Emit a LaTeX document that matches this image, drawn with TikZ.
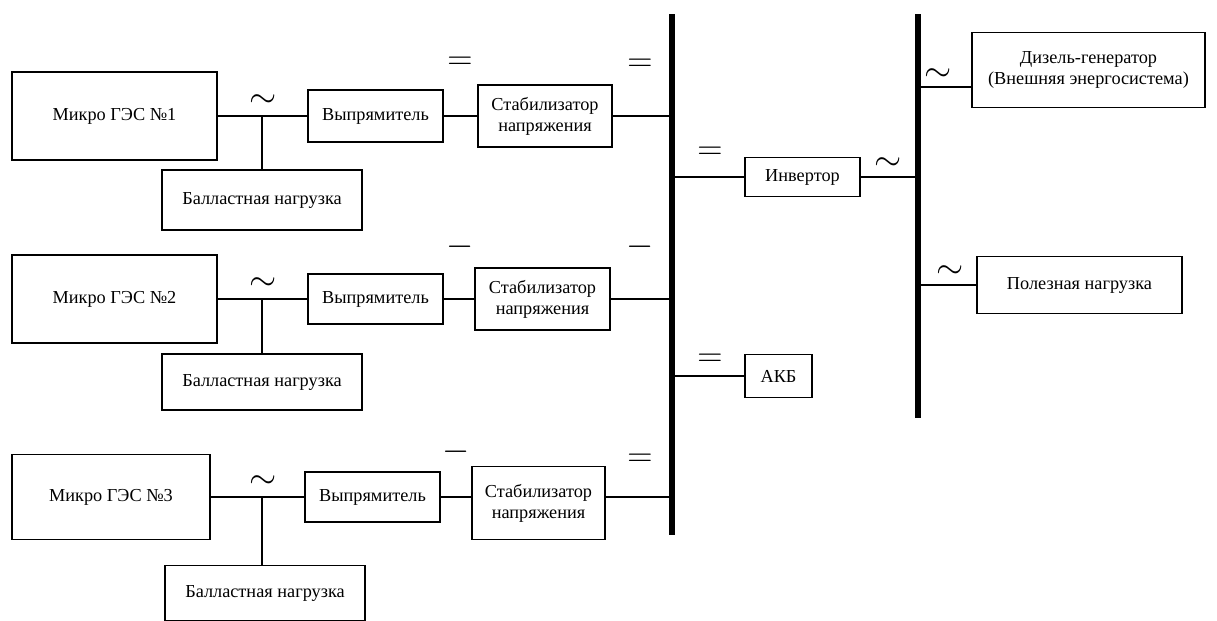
\documentclass[tikz,border=0pt]{standalone}
\usepackage{fontspec}
\setmainfont{Liberation Serif}
\usetikzlibrary{positioning}

\begin{document}
\begin{tikzpicture}[
    x=0.025cm, y=-0.025cm,
    box/.style 2 args={draw, line width=1pt, align=center, inner sep=1pt,
        minimum width=#1*0.025cm, minimum height=#2*0.025cm,
        font=\fontsize{13}{15}\selectfont},
    wire/.style={line width=1.1pt},
    bus/.style={line width=3.6pt},
    sgn/.style={inner sep=0pt, font=\fontsize{23}{23}\selectfont}
]
\useasboundingbox (0,0) rectangle (1217,620);

% row 1
\node[box={205}{88}] (ges1) at (114.5,116) {Микро ГЭС №1};
\node[box={135}{52}] (rect1) at (375.5,116) {Выпрямитель};
\node[box={134}{62}] (stab1) at (545,116) {Стабилизатор\\напряжения};
\node[box={200}{60}] (bal1) at (262,200) {Балластная нагрузка};
\coordinate (j1) at (262,116);

% row 2
\node[box={205}{88}] (ges2) at (114.5,299) {Микро ГЭС №2};
\node[box={135}{50}] (rect2) at (375.5,299) {Выпрямитель};
\node[box={135}{62}] (stab2) at (542.5,299) {Стабилизатор\\напряжения};
\node[box={200}{56}] (bal2) at (262,382) {Балластная нагрузка};
\coordinate (j2) at (262,299);

% row 3
\node[box={198}{85}] (ges3) at (111,497) {Микро ГЭС №3};
\node[box={135}{50}] (rect3) at (372.5,497) {Выпрямитель};
\node[box={133}{73}] (stab3) at (538.5,503) {Стабилизатор\\напряжения};
\node[box={200}{55}] (bal3) at (265,593) {Балластная нагрузка};
\coordinate (j3) at (262,497);

% buses
\coordinate (b1t) at (672,14);
\coordinate (b1b) at (672,535);
\coordinate (b2t) at (918,14);
\coordinate (b2b) at (918,418);
\draw[bus] (b1t) -- (b1b);
\draw[bus] (b2t) -- (b2b);

% right side
\node[box={115}{39}] (inv) at (802.5,177) {Инвертор};
\node[box={67}{43}] (akb) at (778.5,376) {АКБ};
\node[box={233}{75}] (dg) at (1088.5,70) {Дизель-генератор\\(Внешняя энергосистема)};
\node[box={205}{57}] (load) at (1079.5,285) {Полезная нагрузка};

% connections
\draw[wire] (ges1) -- (rect1);
\draw[wire] (j1) -- (bal1);
\draw[wire] (rect1) -- (stab1);
\draw[wire] (stab1) -- (stab1 -| b1t);
\draw[wire] (ges2) -- (rect2);
\draw[wire] (j2) -- (bal2);
\draw[wire] (rect2) -- (stab2);
\draw[wire] (stab2) -- (stab2 -| b1t);
\draw[wire] (ges3) -- (rect3);
\draw[wire] (j3) -- (j3 |- bal3.north);
\draw[wire] (rect3) -- (rect3 -| stab3.west);
\draw[wire] (rect3 -| stab3.east) -- (rect3 -| b1t);
\draw[wire] (inv -| b1t) -- (inv);
\draw[wire] (inv) -- (inv -| b2t);
\draw[wire] (akb -| b1t) -- (akb);
\draw[wire] ([yshift=-17*0.025cm]dg.west -| b2t) -- ([yshift=-17*0.025cm]dg.west);
\draw[wire] (load -| b2t) -- (load);

% current kind marks
\node[sgn] (t1) at (263,101) {$\sim$};
\node[sgn] (e1a) at (460,63) {$=$};
\node[sgn] (e1b) at (640,65) {$=$};
\node[sgn] (t2) at (263,284) {$\sim$};
\node[sgn] (e2a) at (460,247) {$-$};
\node[sgn] (e2b) at (640,247) {$-$};
\node[sgn] (t3) at (263,482) {$\sim$};
\node[sgn] (e3a) at (456,452) {$-$};
\node[sgn] (e3b) at (640,460) {$=$};
\node[sgn] (ei) at (710,153) {$=$};
\node[sgn] (ti) at (888,164) {$\sim$};
\node[sgn] (ea) at (710,360) {$=$};
\node[sgn] (td) at (938,75) {$\sim$};
\node[sgn] (tl) at (950,272) {$\sim$};
\end{tikzpicture}
\end{document}
